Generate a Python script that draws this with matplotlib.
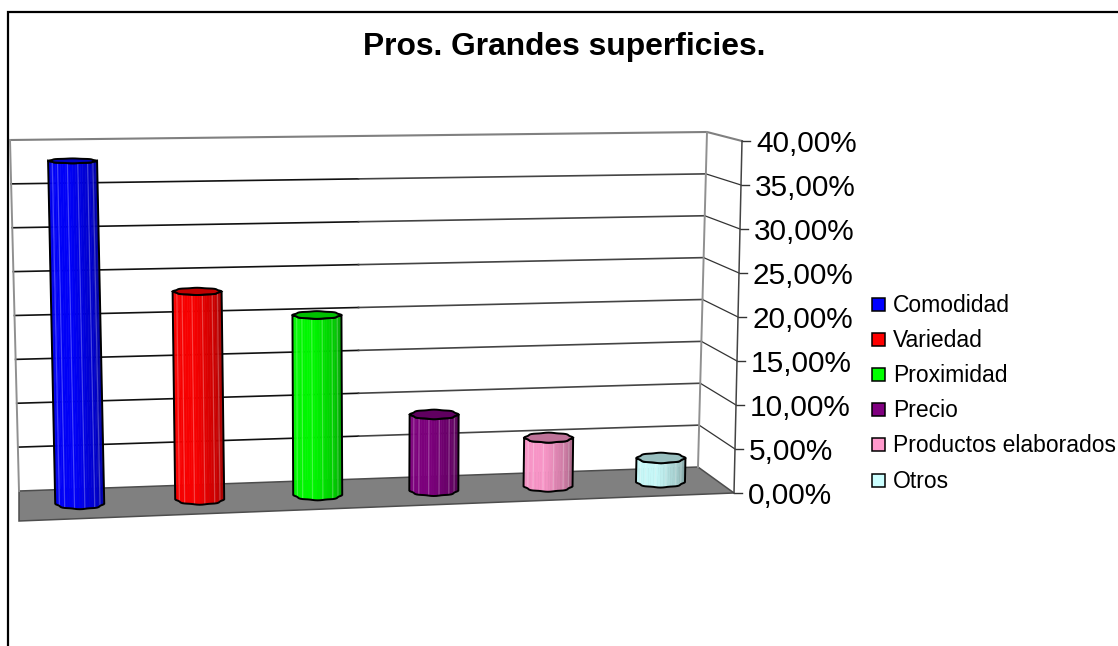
import numpy as np
import matplotlib
matplotlib.use('Agg')
import matplotlib.pyplot as plt
from matplotlib.patches import Polygon, Rectangle

plt.rcParams['font.family'] = ['Liberation Sans', 'DejaVu Sans']

title = 'Pros. Grandes superficies.'
categories = ['Comodidad', 'Variedad', 'Proximidad', 'Precio', 'Productos elaborados', 'Otros']
values = [38.3, 23.4, 20.4, 8.7, 5.6, 2.8]
colors = ['#0000FF', '#FF0000', '#00FF00', '#800080', '#FF99CC', '#CCFFFF']
ticks = [0, 5, 10, 15, 20, 25, 30, 35, 40]
tick_labels = ['0,00%', '5,00%', '10,00%', '15,00%', '20,00%', '25,00%', '30,00%', '35,00%', '40,00%']

# corners of the fake 3d box in pixels: (side, depth, level)
BOX = {
    'bl0': (19, 491), 'br0': (698, 467), 'fl0': (19, 521), 'fr0': (734, 493),
    'bl1': (10, 140), 'br1': (707, 132), 'fl1': (10, 153), 'fr1': (742, 141),
}
VMAX = 40.0
PERSP = 0.05
BAR_R = 24.5


def project(u, d, v):
    # u 0..1 left to right, d 0 back to 1 front, v in percent
    box = {k: np.array(p, dtype=float) for k, p in BOX.items()}
    u = u * (1 + PERSP) / (1 + PERSP * u)
    t = v / VMAX
    low = (1 - u) * ((1 - d) * box['bl0'] + d * box['fl0']) + u * ((1 - d) * box['br0'] + d * box['fr0'])
    high = (1 - u) * ((1 - d) * box['bl1'] + d * box['fl1']) + u * ((1 - d) * box['br1'] + d * box['fr1'])
    return (1 - t) * low + t * high


def cap_points(center, half_h, theta):
    wob = (1 + 0.045 * np.cos(8 * theta)) / 1.045
    return center[0] + BAR_R * wob * np.cos(theta), center[1] + half_h * wob * np.sin(theta)


def shade(color, k):
    rgb = np.array(matplotlib.colors.to_rgb(color))
    return tuple(rgb * k)


def draw_bar(ax, i, value, color):
    u = (i + 0.5) / len(values)
    bottom = project(u, 0.5, 0)
    top = project(u, 0.5, value)
    h_top = 5.5 - 3.2 * value / VMAX
    h_bot = 5.5
    theta = np.linspace(np.pi, 0, 29)
    tx, ty = cap_points(top, h_top, theta)
    bx, by = cap_points(bottom, h_bot, theta)
    for j in range(len(theta) - 1):
        pos = j / (len(theta) - 2)
        k = 0.97 if pos < 0.45 else 0.97 - 0.32 * (pos - 0.45) / 0.55
        if color == '#0000FF' and pos < 0.1:
            k = 0.9
        pts = [(tx[j], ty[j]), (tx[j + 1], ty[j + 1]), (bx[j + 1], by[j + 1]), (bx[j], by[j])]
        ax.add_patch(Polygon(pts, closed=True, fc=shade(color, k), ec=shade(color, k), lw=0.4, zorder=4))
        if j % 4 == 3:
            ax.plot([tx[j + 1], bx[j + 1]], [ty[j + 1], by[j + 1]], color='white', alpha=0.25, lw=0.9, zorder=5)
    outline = list(zip(tx, ty)) + list(zip(bx[::-1], by[::-1]))
    ax.add_patch(Polygon(outline, closed=True, fill=False, ec='black', lw=1.4, zorder=6))
    full = np.linspace(0, 2 * np.pi, 57)
    cx, cy = cap_points(top, h_top, full)
    ax.add_patch(Polygon(list(zip(cx, cy)), closed=True, fc=shade(color, 0.75), ec='black', lw=1.4, zorder=7))


fig = plt.figure(figsize=(11.18, 6.46), dpi=100)
ax = fig.add_axes([0, 0, 1, 1])
ax.set_xlim(0, 1118)
ax.set_ylim(646, 0)
ax.axis('off')

# chart frame, no right or bottom side in the picture
ax.plot([8, 8, 1118], [646, 12, 12], color='black', lw=1.6, solid_joinstyle='miter')

# floor
floor = [project(0, 0, 0), project(1, 0, 0), project(1, 1, 0), project(0, 1, 0)]
ax.add_patch(Polygon(floor, closed=True, fc='#808080', ec='#4d4d4d', lw=1.1, zorder=2))

# walls and grid
for v in ticks:
    p0, p1, p2 = project(0, 0, v), project(1, 0, v), project(1, 1, v)
    if 0 < v < VMAX:
        ax.plot([p0[0], (p0[0] + p1[0]) / 2], [p0[1], (p0[1] + p1[1]) / 2], color='#111111', lw=1.2, zorder=3)
        ax.plot([(p0[0] + p1[0]) / 2, p1[0]], [(p0[1] + p1[1]) / 2, p1[1]], color='#444444', lw=1.2, zorder=3)
        ax.plot([p1[0], p2[0]], [p1[1], p2[1]], color='#333333', lw=0.9, zorder=3)
    if v == VMAX:
        ax.plot([p0[0], p1[0], p2[0]], [p0[1], p1[1], p2[1]], color='#808080', lw=1.5, zorder=3)
    ax.plot([p2[0], p2[0] + 8], [p2[1], p2[1]], color='#333333', lw=1.0, zorder=3)
    ax.text(p2[0] + 14, p2[1] + 3, tick_labels[ticks.index(v)], fontsize=21.4, color='black', ha='left', va='center')

for u_end in [0, 1]:
    a, b = project(u_end, 0, 0), project(u_end, 0, VMAX)
    ax.plot([a[0], b[0]], [a[1], b[1]], color='#909090', lw=1.4, zorder=3)
a, b = project(1, 1, 0), project(1, 1, VMAX)
ax.plot([a[0], b[0]], [a[1], b[1]], color='#444444', lw=1.1, zorder=3)

for i, (val, col) in enumerate(zip(values, colors)):
    draw_bar(ax, i, val, col)

# legend
for i, (name, col) in enumerate(zip(categories, colors)):
    y = 304 + i * 35.2
    ax.add_patch(Rectangle((872, y - 6.5), 13, 13, fc=col, ec='black', lw=1.1))
    ax.text(893, y + 1, name, fontsize=16.5, color='black', ha='left', va='center')

ax.text(564, 47, title, fontsize=22.85, fontweight='bold', color='black', ha='center', va='center')

fig.savefig('out.png', dpi=100)
